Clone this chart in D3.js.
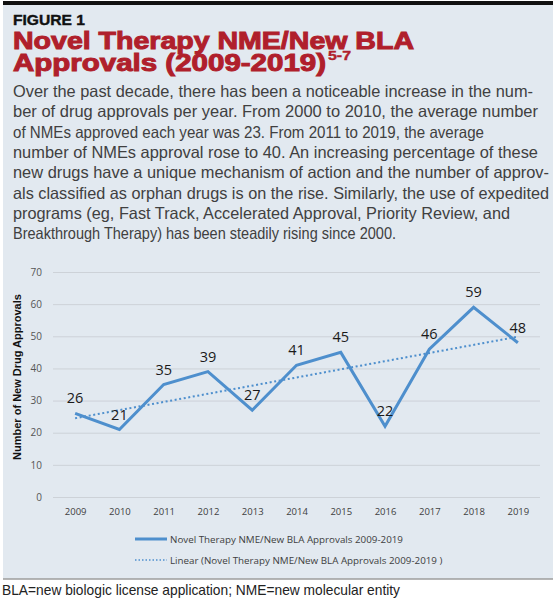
<!DOCTYPE html>
<html>
<head>
<meta charset="utf-8">
<script src="https://cdn.jsdelivr.net/npm/d3@7"></script>
<style>
html,body{margin:0;padding:0;background:#fff;}
svg{display:block;}
</style>
</head>
<body>
<script>
// ---- data ----
const years = ["2009","2010","2011","2012","2013","2014","2015","2016","2017","2018","2019"];
const approvals = [26, 21, 35, 39, 27, 41, 45, 22, 46, 59, 48];
const yTicks = [0, 10, 20, 30, 40, 50, 60, 70];
const figureLabel = "FIGURE 1";
const titleLines = ["Novel Therapy NME/New BLA", "Approvals (2009-2019)"];
const titleSup = "5-7";
const bodyLines = [
  "Over the past decade, there has been a noticeable increase in the num-",
  "ber of drug approvals per year. From 2000 to 2010, the average number",
  "of NMEs approved each year was 23. From 2011 to 2019, the average",
  "number of NMEs approval rose to 40. An increasing percentage of these",
  "new drugs have a unique mechanism of action and the number of approv-",
  "als classified as orphan drugs is on the rise. Similarly, the use of expedited",
  "programs (eg, Fast Track, Accelerated Approval, Priority Review, and",
  "Breakthrough Therapy) has been steadily rising since 2000."
];
const yAxisTitle = "Number of New Drug Approvals";
const seriesName = "Novel Therapy NME/New BLA Approvals 2009-2019";
const trendName = "Linear (Novel Therapy NME/New BLA Approvals 2009-2019 )";
const caption = "BLA=new biologic license application; NME=new molecular entity";

// ---- layout (not data) ----
const W = 557, H = 600;
const bodyWidths = [520, 525, 471, 525, 536, 536, 497, 383];
const blue = "#4e8fcd";

const svg = d3.select("body").append("svg").attr("width", W).attr("height", H);

// panel
svg.append("rect").attr("x", 3).attr("y", 4).attr("width", 550).attr("height", 575).attr("fill", "#e2e9f0");
svg.append("rect").attr("x", 3).attr("y", 1).attr("width", 550).attr("height", 4).attr("fill", "#111");
svg.append("line").attr("x1", 3).attr("x2", 553).attr("y1", 579).attr("y2", 579)
  .attr("stroke", "#9c9c9c").attr("stroke-width", 1.5);

// header
svg.append("text").attr("x", 13).attr("y", 25).text(figureLabel)
  .attr("font-family", "Liberation Sans, Arial, sans-serif").attr("font-weight", 900)
  .attr("font-size", 14.5).attr("fill", "#111").attr("stroke", "#111").attr("stroke-width", 0.4)
  .attr("textLength", 72).attr("lengthAdjust", "spacingAndGlyphs");

const tfont = "Liberation Sans, Arial, sans-serif";
const red = "#b01f2c";
svg.append("text").attr("x", 13).attr("y", 48.5).text(titleLines[0])
  .attr("font-family", tfont).attr("font-weight", 700).attr("font-size", 23.5)
  .attr("fill", red).attr("stroke", red).attr("stroke-width", 1)
  .attr("textLength", 401).attr("lengthAdjust", "spacingAndGlyphs");
svg.append("text").attr("x", 13).attr("y", 70.5).text(titleLines[1])
  .attr("font-family", tfont).attr("font-weight", 700).attr("font-size", 23.5)
  .attr("fill", red).attr("stroke", red).attr("stroke-width", 1)
  .attr("textLength", 313).attr("lengthAdjust", "spacingAndGlyphs");
svg.append("text").attr("x", 328).attr("y", 60).text(titleSup)
  .attr("font-family", tfont).attr("font-weight", 700).attr("font-size", 13)
  .attr("fill", red).attr("stroke", red).attr("stroke-width", 0.4)
  .attr("textLength", 23).attr("lengthAdjust", "spacingAndGlyphs");

// body paragraph
svg.append("g").selectAll("text").data(bodyLines).join("text")
  .attr("x", 13).attr("y", (d, i) => 97 + i * 20.3)
  .attr("font-family", "Liberation Sans, Arial, sans-serif").attr("font-size", 16.5)
  .attr("fill", "#404040")
  .attr("textLength", (d, i) => bodyWidths[i]).attr("lengthAdjust", "spacingAndGlyphs")
  .text(d => d);

// ---- chart ----
const x = d3.scalePoint().domain(years).range([53, 540]).padding(0.5);
const y = d3.scaleLinear().domain([0, 70]).range([497, 272]);

const yAxis = svg.append("g").attr("transform", "translate(53,0)")
  .call(d3.axisLeft(y).tickValues(yTicks).tickSize(-487).tickPadding(11));
yAxis.select(".domain").remove();
yAxis.selectAll(".tick line").attr("stroke", "#cdd2d8").attr("stroke-width", 1);
yAxis.selectAll(".tick text").attr("font-family", "Open Sans, sans-serif").attr("font-size", 10).attr("fill", "#555");

const xAxis = svg.append("g").attr("transform", "translate(0,497)")
  .call(d3.axisBottom(x).tickSize(0).tickPadding(11));
xAxis.select(".domain").remove();
xAxis.selectAll(".tick text").attr("font-family", "Open Sans, sans-serif").attr("font-size", 9.5).attr("fill", "#404040");

svg.append("text").attr("transform", "translate(17,377) rotate(-90)")
  .attr("text-anchor", "middle").attr("dominant-baseline", "central")
  .attr("font-family", "Liberation Sans, Arial, sans-serif").attr("font-weight", 700).attr("font-size", 11)
  .attr("fill", "#111").text(yAxisTitle);

// trend line (least squares fit of the series)
const idx = approvals.map((d, i) => i);
const mx = d3.mean(idx), my = d3.mean(approvals);
const slope = d3.sum(idx, i => (i - mx) * (approvals[i] - my)) / d3.sum(idx, i => (i - mx) ** 2);
const icpt = my - slope * mx;
const trend = years.map((yr, i) => ({ yr, v: icpt + slope * i }));

const lineGen = d3.line().x(d => x(d.yr)).y(d => y(d.v));
svg.append("path").datum([trend[0], trend[trend.length - 1]]).attr("d", lineGen)
  .attr("fill", "none").attr("stroke", blue).attr("stroke-width", 2).attr("stroke-dasharray", "2,2.6");

const series = years.map((yr, i) => ({ yr, v: approvals[i] }));
svg.append("path").datum(series).attr("d", lineGen)
  .attr("fill", "none").attr("stroke", blue).attr("stroke-width", 3).attr("stroke-linejoin", "miter");

svg.append("g").selectAll("text").data(series).join("text")
  .attr("x", d => x(d.yr)).attr("y", d => y(d.v) - 10)
  .attr("text-anchor", "middle").attr("font-family", "Open Sans, sans-serif").attr("font-size", 14.5)
  .attr("fill", "#1a1a1a").text(d => d.v);

// legend
const lg = svg.append("g");
lg.append("line").attr("x1", 135).attr("x2", 167).attr("y1", 539).attr("y2", 539)
  .attr("stroke", blue).attr("stroke-width", 3);
lg.append("text").attr("x", 170).attr("y", 539).attr("dominant-baseline", "central")
  .attr("font-family", "Open Sans, sans-serif").attr("font-size", 9.8).attr("fill", "#404040").text(seriesName);
lg.append("line").attr("x1", 135).attr("x2", 167).attr("y1", 560).attr("y2", 560)
  .attr("stroke", blue).attr("stroke-width", 1.5).attr("stroke-dasharray", "1.5,2");
lg.append("text").attr("x", 170).attr("y", 560).attr("dominant-baseline", "central")
  .attr("font-family", "Open Sans, sans-serif").attr("font-size", 9.8).attr("fill", "#404040").text(trendName);

// caption
svg.append("text").attr("x", 2).attr("y", 595).text(caption)
  .attr("font-family", "Liberation Sans, Arial, sans-serif").attr("font-size", 14.5).attr("fill", "#222")
  .attr("textLength", 398).attr("lengthAdjust", "spacingAndGlyphs");
</script>
</body>
</html>
